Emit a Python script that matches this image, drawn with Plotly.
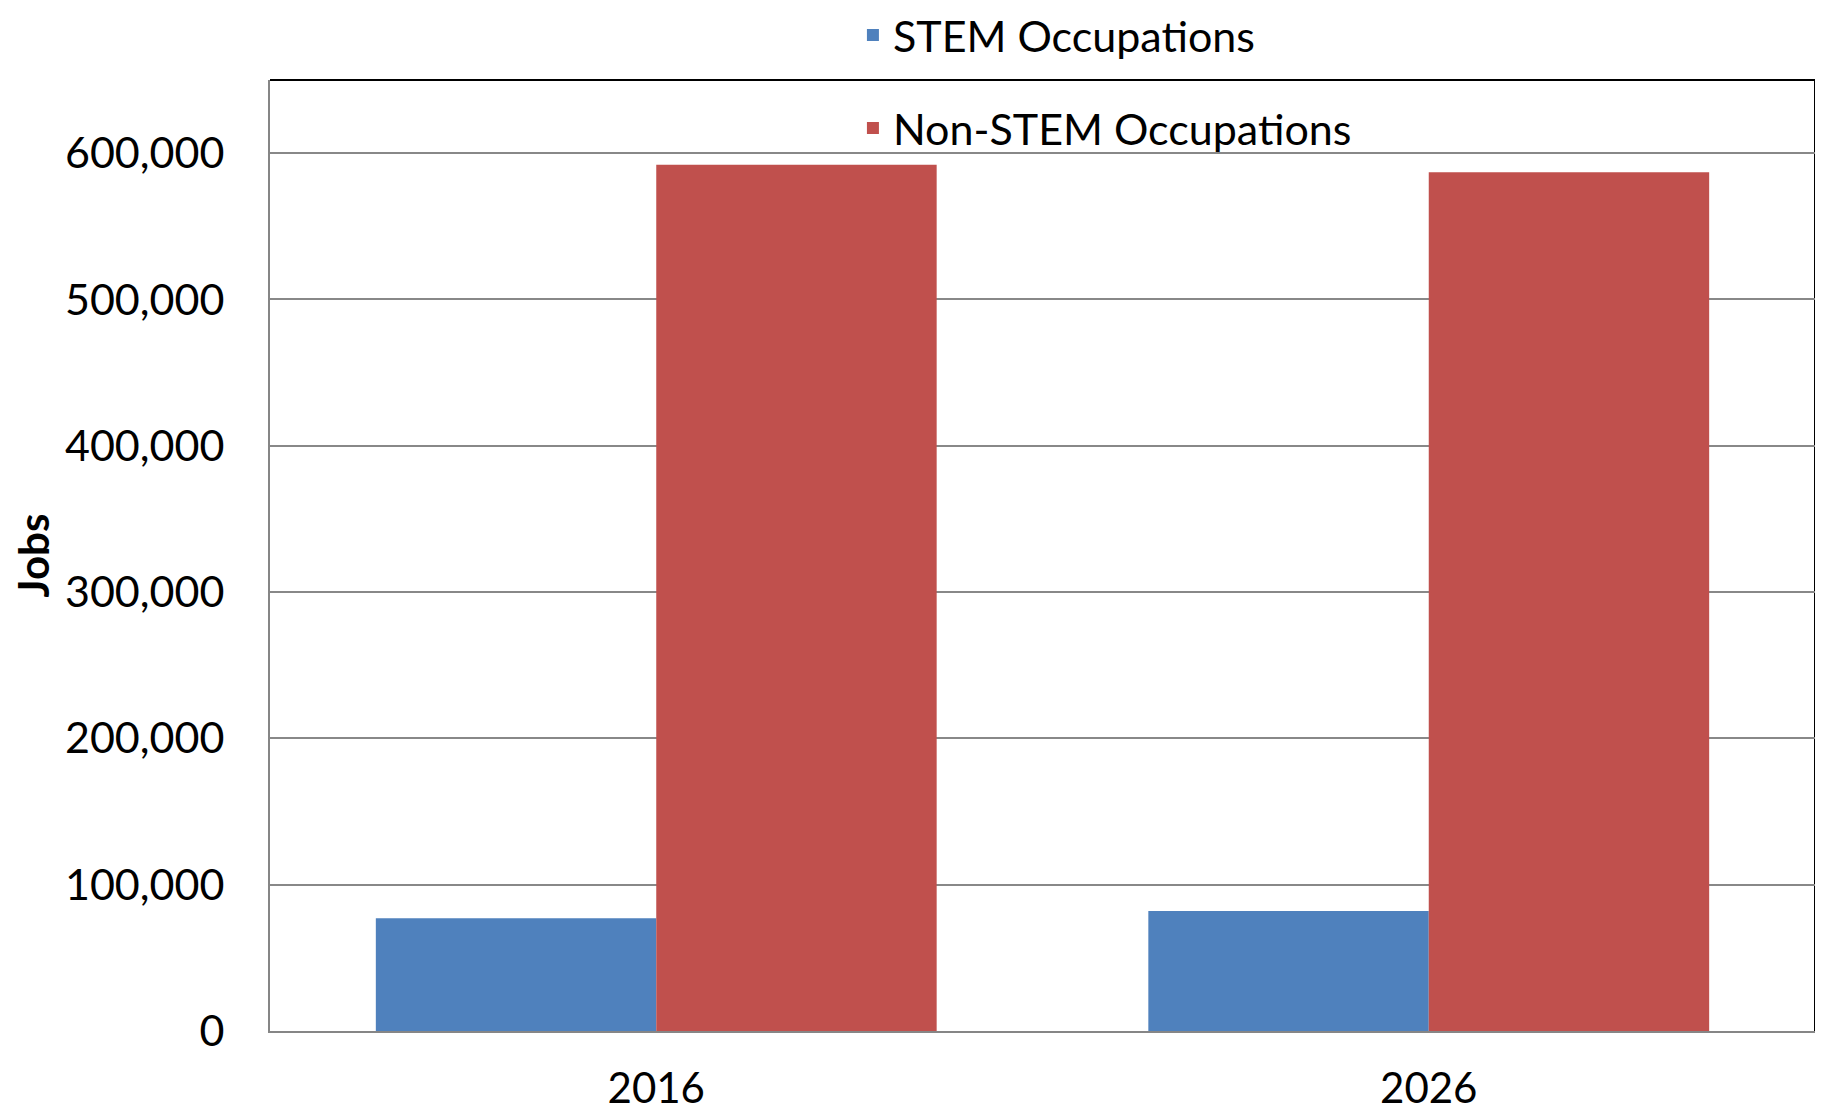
import plotly.graph_objects as go

years = ["2016", "2026"]
stem_jobs = [77000, 82000]
non_stem_jobs = [592000, 587000]
y_ticks = [0, 100000, 200000, 300000, 400000, 500000, 600000]
y_tick_labels = ["0", "100,000", "200,000", "300,000", "400,000", "500,000", "600,000"]

FONT = "Lato, Calibri, Carlito, sans-serif"

fig = go.Figure()
fig.add_trace(go.Bar(x=years, y=stem_jobs, name="STEM Occupations",
                     marker=dict(color="#4F81BD", line=dict(width=0)),
                     legendgroup="a"))
fig.add_trace(go.Bar(x=years, y=non_stem_jobs, name="Non-STEM Occupations",
                     marker=dict(color="#C0504D", line=dict(width=0)),
                     legendgroup="b"))

# page body has an 8px margin, so the figure is sized/offset to compensate
W, H = 1815, 1104
L, R, T, B = 262, 8, 72, 81

fig.update_layout(
    width=W, height=H,
    margin=dict(l=L, r=R, t=T, b=B, autoexpand=False),
    paper_bgcolor="white", plot_bgcolor="white",
    barmode="group", bargap=0.274, bargroupgap=0,
    font=dict(family=FONT, size=43, color="black"),
    legend=dict(x=0.3773, xanchor="left", y=1.0835, yanchor="top",
                orientation="v", tracegroupgap=34,
                font=dict(family=FONT, size=43, color="black"),
                bgcolor="rgba(0,0,0,0)"),
    xaxis=dict(showline=True, linecolor="#868686", linewidth=2,
               showgrid=False, ticks="", ticklabelstandoff=20,
               automargin=False, tickfont=dict(size=42)),
    yaxis=dict(range=[0, 650000], tickvals=y_ticks, ticktext=y_tick_labels,
               showline=True, linecolor="#868686", linewidth=2,
               showgrid=True, gridcolor="#888888", gridwidth=2,
               zeroline=False, ticks="", ticklabelstandoff=35,
               automargin=False, tickfont=dict(size=43),
               title=dict(text="<b>Jobs</b>", standoff=15,
                          font=dict(size=42))),
    shapes=[
        dict(type="line", xref="paper", yref="paper", x0=0, x1=1, y0=1, y1=1,
             line=dict(color="black", width=2), layer="below"),
        dict(type="line", xref="paper", yref="paper", x0=1, x1=1, y0=0, y1=1,
             line=dict(color="black", width=2), layer="below"),
    ],
)

fig.write_html("out.html")
